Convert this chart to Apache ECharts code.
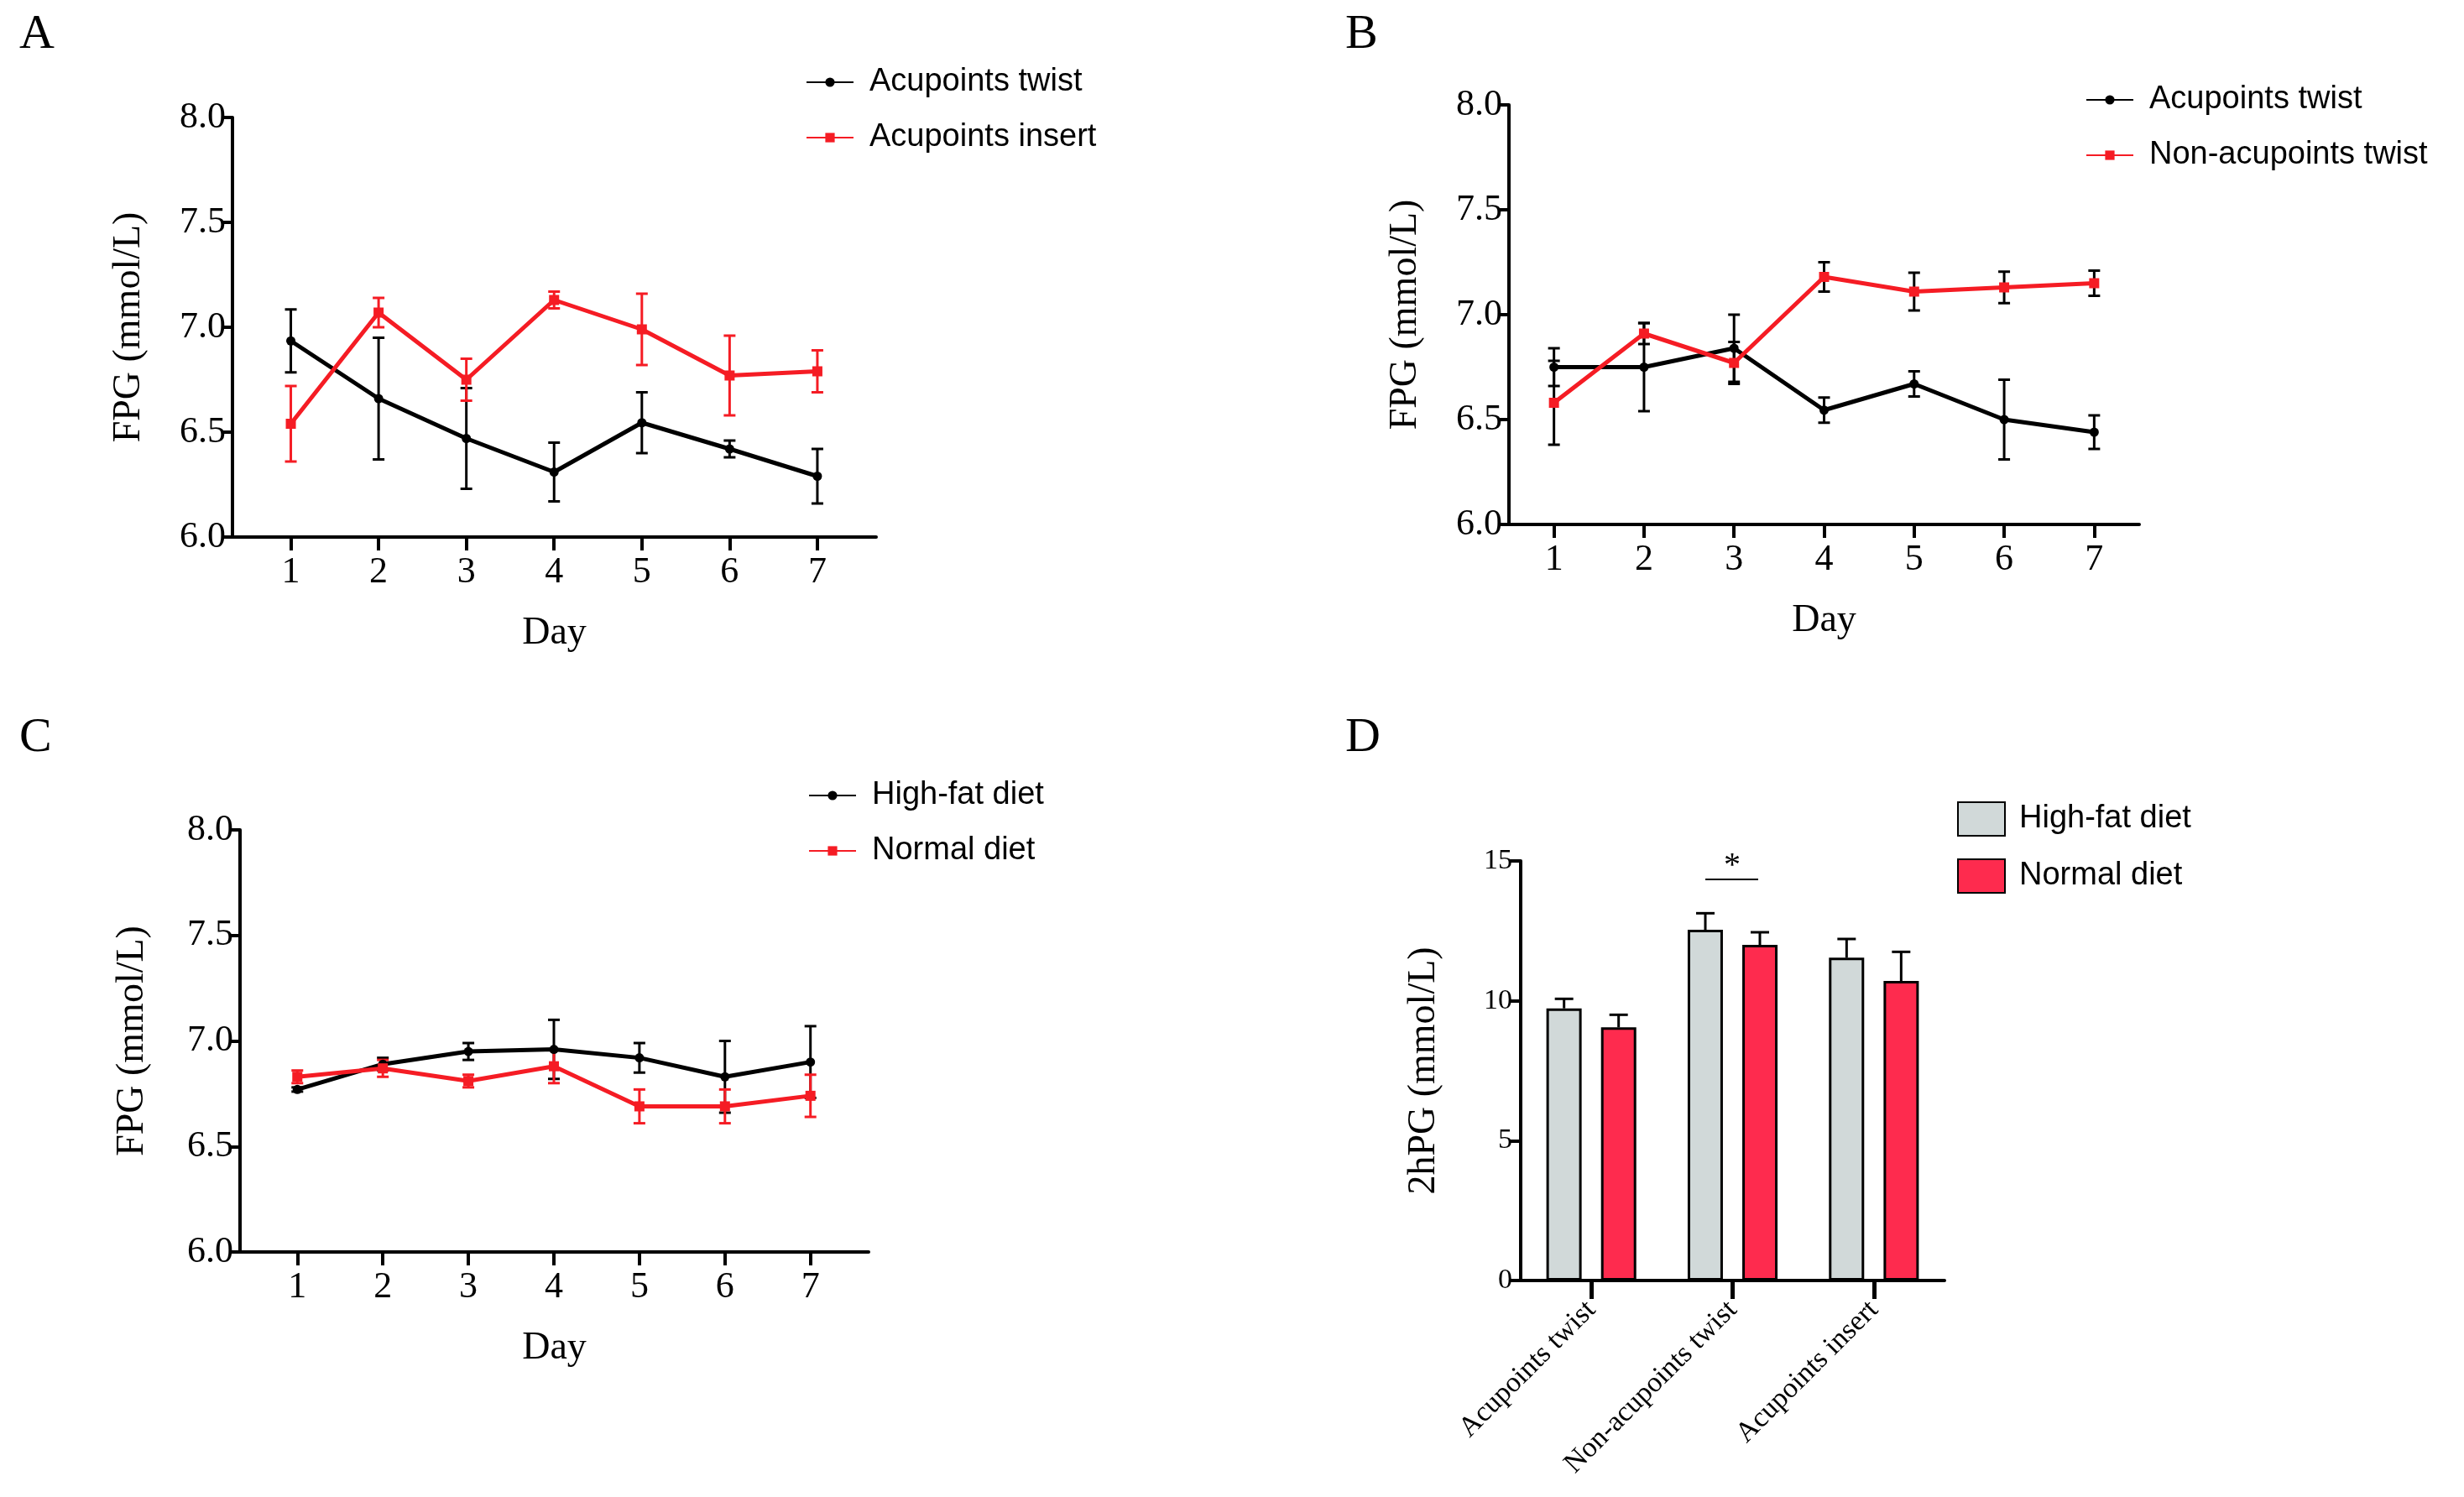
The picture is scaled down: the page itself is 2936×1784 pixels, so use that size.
<!DOCTYPE html>
<html><head><meta charset="utf-8">
<script src="https://cdn.jsdelivr.net/npm/echarts@6/dist/echarts.min.js"></script>
<style>html,body{margin:0;background:#fff}#c{width:2936px;height:1784px}</style>
</head><body><div id="c"></div>
<script>
const days = [1,2,3,4,5,6,7];
const aTwist = [6.935,6.66,6.47,6.31,6.545,6.42,6.29];
const aTwistErr = [0.15,0.29,0.24,0.14,0.145,0.04,0.13];
const aInsert = [6.54,7.07,6.75,7.13,6.99,6.77,6.79];
const aInsertErr = [0.18,0.07,0.10,0.04,0.17,0.19,0.10];
const bTwist = [6.75,6.75,6.84,6.545,6.67,6.50,6.44];
const bTwistErr = [0.09,0.21,0.16,0.06,0.06,0.19,0.08];
const bNon = [6.58,6.91,6.77,7.18,7.11,7.13,7.15];
const bNonErr = [0.20,0.05,0.10,0.07,0.09,0.075,0.06];
const cHigh = [6.77,6.89,6.95,6.96,6.92,6.83,6.90];
const cHighErr = [0.01,0.03,0.04,0.14,0.07,0.17,0.17];
const cNormal = [6.83,6.87,6.81,6.88,6.69,6.69,6.74];
const cNormalErr = [0.03,0.04,0.03,0.08,0.08,0.08,0.10];
const dCats = ['Acupoints twist','Non-acupoints twist','Acupoints insert'];
const dHigh = [9.73,12.54,11.54];
const dHighErr = [0.34,0.59,0.67];
const dNormal = [9.05,12.0,10.71];
const dNormalErr = [0.45,0.45,1.04];
const fpgTicks = [6.0,6.5,7.0,7.5,8.0];

const BLACK='#000', RED='#f51c24', GRAYB='#d1d9d9', REDB='#fe2b4e';
const serif='Liberation Serif', sans='Liberation Sans';

function pairs(v){return days.map((d,i)=>[d,v[i]]);}
function errData(v,e){return days.map((d,i)=>[d,v[i]-e[i],v[i]+e[i]]);}
function errSeries(idx,data,color){
  return {type:'custom',xAxisIndex:idx,yAxisIndex:idx,data:data,z:3,silent:true,
    encode:{x:0,y:[1,2]},
    renderItem:function(p,api){
      const x=api.value(0),lo=api.coord([x,api.value(1)]),hi=api.coord([x,api.value(2)]);
      const w=7,st={stroke:color,lineWidth:3};
      return {type:'group',children:[
        {type:'line',shape:{x1:lo[0],y1:lo[1],x2:hi[0],y2:hi[1]},style:st},
        {type:'line',shape:{x1:lo[0]-w,y1:lo[1],x2:lo[0]+w,y2:lo[1]},style:st},
        {type:'line',shape:{x1:hi[0]-w,y1:hi[1],x2:hi[0]+w,y2:hi[1]},style:st}]};
    }};
}
function lineSeries(idx,name,v,color,sym){
  return {type:'line',name:name,xAxisIndex:idx,yAxisIndex:idx,data:pairs(v),z:4,
    symbol:sym,symbolSize:sym==='rect'?12:11,lineStyle:{color:color,width:5},
    itemStyle:{color:color},emphasis:{disabled:true}};
}
function barErr(v,e,off){
  return {type:'custom',xAxisIndex:3,yAxisIndex:3,z:5,silent:true,
    data:v.map((x,i)=>[i,x,x+e[i]]),encode:{x:0,y:[1,2]},
    renderItem:function(p,api){
      const a=api.coord([api.value(0),api.value(1)]),b=api.coord([api.value(0),api.value(2)]);
      const cx=a[0]+off,st={stroke:'#000',lineWidth:3};
      return {type:'group',children:[
        {type:'line',shape:{x1:cx,y1:a[1],x2:cx,y2:b[1]},style:st},
        {type:'line',shape:{x1:cx-11,y1:b[1],x2:cx+11,y2:b[1]},style:st}]};
    }};
}
function xVal(idx,min,max){
  return {type:'value',gridIndex:idx,min:min,max:max,name:'Day',nameLocation:'middle',nameGap:92,
    nameTextStyle:{fontFamily:serif,fontSize:46,color:'#000'},
    axisLine:{lineStyle:{color:'#000',width:4}},splitLine:{show:false},
    axisTick:{show:true,customValues:days,length:16,lineStyle:{width:4,color:'#000'}},
    axisLabel:{customValues:days,fontFamily:serif,fontSize:44,color:'#000',margin:20}};
}
function yVal(idx,gap){
  return {type:'value',gridIndex:idx,min:6,max:8,interval:0.5,name:'FPG (mmol/L)',nameLocation:'middle',nameGap:gap,
    nameTextStyle:{fontFamily:serif,fontSize:46,color:'#000'},
    axisLine:{show:true,lineStyle:{color:'#000',width:4}},splitLine:{show:false},
    axisTick:{show:true,length:12,lineStyle:{width:4,color:'#000'}},
    axisLabel:{fontFamily:serif,fontSize:44,color:'#000',margin:8,formatter:v=>v.toFixed(1)}};
}
function lineLegend(names,left,top){
  return {data:names,left:left,top:top,orient:'vertical',itemGap:28,itemWidth:56,itemHeight:14,
    textStyle:{fontFamily:sans,fontSize:38,color:'#000',padding:[0,0,0,14]},selectedMode:false};
}
const letters=[['A',18,8],['B',1598,8],['C',18,846],['D',1598,846]];
const option={
  animation:false,
  title:letters.map(l=>({text:l[0],left:l[1],top:l[2],textStyle:{fontFamily:serif,fontSize:58,fontWeight:'normal',color:'#000'}})),
  grid:[{left:277,top:140,width:767,height:500},{left:1798,top:125,width:751,height:500},
        {left:286,top:989,width:749,height:503},{left:1812,top:1026,width:505,height:500}],
  legend:[lineLegend(['Acupoints twist','Acupoints insert'],955,74),
          lineLegend(['Acupoints twist ','Non-acupoints twist'],2480,95),
          lineLegend(['High-fat diet','Normal diet'],958,924),
          {data:['High-fat diet ','Normal diet '],left:2327,top:950,orient:'vertical',itemGap:26,itemWidth:56,itemHeight:40,
           icon:'rect',textStyle:{fontFamily:sans,fontSize:38,color:'#000',padding:[0,0,0,12]},selectedMode:false}],
  xAxis:[xVal(0,0.335,7.67),xVal(1,0.5,7.5),xVal(2,0.33,7.68),
    {type:'category',gridIndex:3,data:dCats,axisLine:{lineStyle:{color:'#000',width:4}},
     axisTick:{show:true,alignWithLabel:true,length:22,lineStyle:{width:5,color:'#000'}},
     axisLabel:{rotate:45,fontFamily:serif,fontSize:34,color:'#000',margin:30}}],
  yAxis:[yVal(0,100),yVal(1,100),yVal(2,105),
    {type:'value',gridIndex:3,min:0,max:15,interval:5,name:'2hPG (mmol/L)',nameLocation:'middle',nameGap:92,
     nameTextStyle:{fontFamily:serif,fontSize:46,color:'#000'},
     axisLine:{show:true,lineStyle:{color:'#000',width:4}},splitLine:{show:false},
     axisTick:{show:true,length:14,lineStyle:{width:4,color:'#000'}},
     axisLabel:{fontFamily:serif,fontSize:34,color:'#000',margin:10}}],
  series:[
    errSeries(0,errData(aTwist,aTwistErr),BLACK),errSeries(0,errData(aInsert,aInsertErr),RED),
    lineSeries(0,'Acupoints twist',aTwist,BLACK,'circle'),lineSeries(0,'Acupoints insert',aInsert,RED,'rect'),
    errSeries(1,errData(bTwist,bTwistErr),BLACK),errSeries(1,errData(bNon,bNonErr),BLACK),
    lineSeries(1,'Acupoints twist ',bTwist,BLACK,'circle'),lineSeries(1,'Non-acupoints twist',bNon,RED,'rect'),
    errSeries(2,errData(cHigh,cHighErr),BLACK),errSeries(2,errData(cNormal,cNormalErr),RED),
    lineSeries(2,'High-fat diet',cHigh,BLACK,'circle'),lineSeries(2,'Normal diet',cNormal,RED,'rect'),
    {type:'bar',name:'High-fat diet ',xAxisIndex:3,yAxisIndex:3,data:dHigh,barWidth:42,barGap:'55%',
     itemStyle:{color:GRAYB,borderColor:'#000',borderWidth:3}},
    {type:'bar',name:'Normal diet ',xAxisIndex:3,yAxisIndex:3,data:dNormal,barWidth:42,
     itemStyle:{color:REDB,borderColor:'#000',borderWidth:3}},
    barErr(dHigh,dHighErr,-32.5),barErr(dNormal,dNormalErr,32.5)
  ],
  graphic:[
    {type:'line',shape:{x1:2032,y1:1048,x2:2095,y2:1048},style:{stroke:'#000',lineWidth:2}},
    {type:'text',x:2064,y:1032,style:{text:'*',fontFamily:serif,fontSize:40,fill:'#000',align:'center',verticalAlign:'middle'}}
  ]
};
echarts.init(document.getElementById('c')).setOption(option);
</script></body></html>
